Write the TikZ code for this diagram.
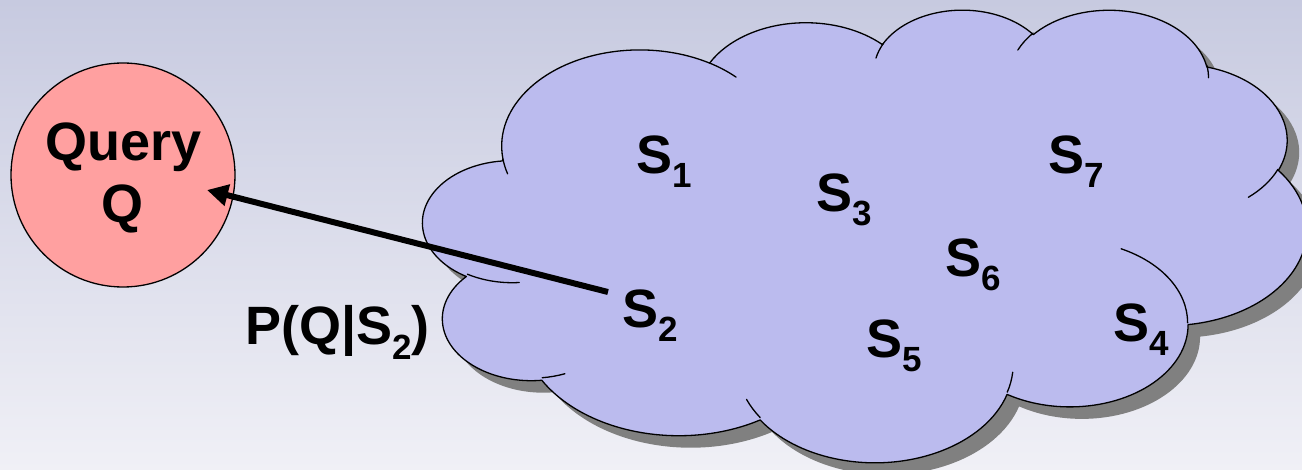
\documentclass[tikz,border=0pt]{standalone}
\usepackage{fontspec}
\setmainfont{Liberation Sans}
\usetikzlibrary{arrows.meta}
\definecolor{bgtop}{RGB}{199,202,224}
\definecolor{bgbot}{RGB}{240,240,246}
\definecolor{cloudfill}{RGB}{187,187,238}
\definecolor{queryfill}{RGB}{255,160,160}
\definecolor{shadowgray}{RGB}{128,128,128}
\newcommand{\Slab}[1]{S\raisebox{-14pt}{\fontsize{35}{35}\selectfont #1}}
% parametric start/end angles of an arc given by visual start angle and sweep
\newcommand{\prepArc}[5]{%
  \pgfmathsetmacro\tmpa{atan2(sin(#4)/#3, cos(#4)/#2)}%
  \pgfmathsetmacro\tmpb{atan2(sin(#4+#5)/#3, cos(#4+#5)/#2)}%
  \pgfmathsetmacro\tmpb{(\tmpb < \tmpa) ? \tmpb+360 : \tmpb}%
  \expandafter\xdef\csname ta#1\endcsname{\tmpa}%
  \expandafter\xdef\csname tb#1\endcsname{\tmpb}%
}
\prepArc{A}{67.53}{91.90}{-190.48748}{123.78053}
\prepArc{B}{53.33}{72.67}{-144.10238}{89.94523}
\prepArc{C}{43.65}{59.45}{-145.80792}{99.72302}
\prepArc{D}{48.57}{65.95}{-130.98607}{117.24173}
\prepArc{E}{53.33}{72.73}{-78.70888}{109.02692}
\prepArc{F}{67.75}{92.20}{-46.26725}{130.269}
\prepArc{G}{57.85}{78.67}{0.62502}{114.03333}
\prepArc{H}{67.52}{92.15}{22.4516}{115.17255}
\prepArc{I}{77.20}{105.43}{66.24263}{75.71102}
\prepArc{J}{43.60}{59.18}{-274.94208}{146.73557}
\prepArc{K}{43.45}{59.45}{-246.8285}{152.51885}
% ticks
\prepArc{a}{43.45}{59.45}{86.742}{26.4295}
\prepArc{b}{43.60}{59.18}{73.61047}{11.44747}
\prepArc{c}{67.52}{92.15}{137.62415}{14.0811}
\prepArc{d}{67.52}{92.15}{6.45327}{15.99835}
\prepArc{e}{57.85}{78.67}{-70.29235}{70.91737}
\prepArc{f}{53.33}{72.73}{30.31803}{27.7515}
\prepArc{g}{48.57}{65.95}{-13.74433}{14.8589}
\prepArc{h}{48.57}{65.95}{-149.18145}{18.19537}
\prepArc{i}{43.65}{59.45}{-163.49427}{17.6868}
\prepArc{j}{67.53}{91.90}{-66.70695}{12.31935}
\prepArc{k}{67.53}{91.90}{157.65435}{11.85817}
\newcommand{\cloudpath}{%
(39.00,143.70)
arc[start angle=\taA, end angle=\tbA, x radius=67.53, y radius=91.90]
arc[start angle=\taB, end angle=\tbB, x radius=53.33, y radius=72.67]
arc[start angle=\taC, end angle=\tbC, x radius=43.65, y radius=59.45]
arc[start angle=\taD, end angle=\tbD, x radius=48.57, y radius=65.95]
arc[start angle=\taE, end angle=\tbE, x radius=53.33, y radius=72.73]
arc[start angle=\taF, end angle=\tbF, x radius=67.75, y radius=92.20]
arc[start angle=\taG, end angle=\tbG, x radius=57.85, y radius=78.67]
arc[start angle=\taH, end angle=\tbH, x radius=67.52, y radius=92.15]
arc[start angle=\taI, end angle=\tbI, x radius=77.20, y radius=105.43]
arc[start angle=\taJ, end angle=\tbJ, x radius=43.60, y radius=59.18]
arc[start angle=\taK, end angle=\tbK, x radius=43.45, y radius=59.45]
-- cycle}
\begin{document}
\begin{tikzpicture}[x=1pt,y=-1pt,
  lbl/.style={font=\fontsize{54}{60}\selectfont\bfseries, inner sep=0pt, anchor=base west},
  qtext/.style={font=\fontsize{54}{60}\selectfont\bfseries, inner sep=0pt, anchor=base},
  outline/.style={draw=black, line width=1.3pt, line join=round},
  tick/.style={draw=black, line width=1.3pt, line cap=round},
  connector/.style={line width=6pt, -{Triangle[length=21pt,width=21pt]}}]
\useasboundingbox (0,0) rectangle (1302,470);
\shade[top color=bgtop, bottom color=bgbot] (0,0) rectangle (1302,470);
% cloud shadow
\begin{scope}[shift={(435.2,20.7)}, x=2.045pt, y=-1.046pt]
  \fill[shadowgray] \cloudpath;
\end{scope}
% cloud
\begin{scope}[shift={(423.2,8.7)}, x=2.045pt, y=-1.046pt]
  \path[fill=cloudfill, outline] \cloudpath;
  \path[tick] (46.93,261.77) arc[start angle=\taa, end angle=\tba, x radius=43.45, y radius=59.45];
  \path[tick] (69.28,348.99) arc[start angle=\tab, end angle=\tbb, x radius=43.60, y radius=59.18];
  \path[tick] (164.78,390.90) arc[start angle=\tac, end angle=\tbc, x radius=67.52, y radius=92.15];
  \path[tick] (288.27,347.51) arc[start angle=\tad, end angle=\tbd, x radius=67.52, y radius=92.15];
  \path[tick] (341.29,229.54) arc[start angle=\tae, end angle=\tbe, x radius=57.85, y radius=78.67];
  \path[tick] (417.98,153.54) arc[start angle=\taf, end angle=\tbf, x radius=53.33, y radius=72.73];
  \path[tick] (383.24,54.26) arc[start angle=\tag, end angle=\tbg, x radius=48.57, y radius=65.95];
  \path[tick] (290.78,39.52) arc[start angle=\tah, end angle=\tbh, x radius=48.57, y radius=65.95];
  \path[tick] (221.41,47.20) arc[start angle=\tai, end angle=\tbi, x radius=43.65, y radius=59.45];
  \path[tick] (140.00,51.92) arc[start angle=\taj, end angle=\tbj, x radius=67.53, y radius=91.90];
  \path[tick] (41.27,157.89) arc[start angle=\tak, end angle=\tbk, x radius=67.53, y radius=91.90];
\end{scope}
% query circle
\node[circle, draw=black, fill=queryfill, minimum size=224pt, inner sep=0pt, line width=1.3pt] (query) at (123,175) {};
\node[qtext] (querytxt) at (123.5,161) {Query};
\node[qtext] (qtxt) at (123,223) {Q};
% labels
\node[lbl] (s1) at (636,174) {\Slab{1}};
\node[lbl] (s3) at (816,212) {\Slab{3}};
\node[lbl] (s7) at (1048,174) {\Slab{7}};
\node[lbl] (s6) at (945,277) {\Slab{6}};
\node[lbl] (s2) at (622,328) {\Slab{2}};
\node[lbl] (s5) at (866,358) {\Slab{5}};
\node[lbl] (s4) at (1113,342) {\Slab{4}};
\node[lbl] (prob) at (245,345) {P(Q|\Slab{2})};
% arrow
\coordinate (s2tail) at (608,292);
\coordinate (qtip) at (207,190);
\draw[connector] (s2tail) -- (qtip);
\end{tikzpicture}
\end{document}
